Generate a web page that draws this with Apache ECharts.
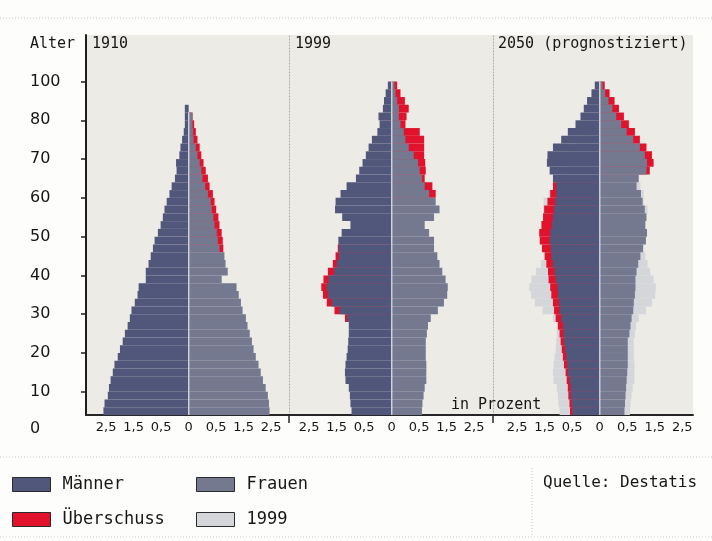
<!DOCTYPE html>
<html>
<head>
<meta charset="utf-8">
<script src="https://cdn.jsdelivr.net/npm/echarts@6/dist/echarts.min.js"></script>
<style>
html,body{margin:0;padding:0;background:#fdfdfc;}
#chart{width:712px;height:541px;}
</style>
</head>
<body>
<div id="chart"></div>
<script>
// Age bins (start of each 2-year band)
const ageBins = [4,6,8,10,12,14,16,18,20,22,24,26,28,30,32,34,36,38,40,42,44,46,48,50,52,54,56,58,60,62,64,66,68,70,72,74,76,78,80,82,84,86,88,90,92,94,96,98,100];

const panelTitles = ['1910', '1999', '2050 (prognostiziert)'];
const yTickValues = [10,20,30,40,50,60,70,80,90];
const yTickLabels = ['10','20','30','40','50','60','70','80','100'];
const xTickValues = [-1.5,-1,-0.5,0,0.5,1,1.5];
const xTickLabels = ['2,5','1,5','0,5','0','0,5','1,5','2,5'];
const legendNames = ['Männer', 'Frauen', 'Überschuss', '1999'];

// 1910
const men1910 = [1.55,1.53,1.47,1.45,1.42,1.38,1.35,1.29,1.25,1.20,1.16,1.11,1.07,1.04,0.98,0.93,0.91,0.78,0.78,0.73,0.69,0.65,0.62,0.56,0.51,0.47,0.44,0.40,0.35,0.31,0.25,0.22,0.23,0.17,0.15,0.12,0.09,0.07,0.07,0.07,0,0,0,0,0,0,0,0,0];
const women1910 = [1.47,1.46,1.44,1.40,1.35,1.31,1.27,1.22,1.18,1.15,1.11,1.07,1.04,0.98,0.95,0.91,0.87,0.60,0.71,0.67,0.65,0.56,0.53,0.51,0.47,0.45,0.42,0.40,0.35,0.30,0.25,0.23,0.20,0.16,0.13,0.09,0.08,0.07,0.07,0,0,0,0,0,0,0,0,0,0];
const menSurplus1910 = [0,0,0,0,0,0,0,0,0,0,0,0,0,0,0,0,0,0,0,0,0,0,0,0,0,0,0,0,0,0,0,0,0,0,0,0,0,0,0,0,0,0,0,0,0,0,0,0,0];
const womenSurplus1910 = [0,0,0,0,0,0,0,0,0,0,0,0,0,0,0,0,0,0,0,0,0,0.63,0.62,0.60,0.56,0.54,0.50,0.47,0.44,0.38,0.35,0.31,0.27,0.23,0.20,0.16,0.13,0.10,0.07,0,0,0,0,0,0,0,0,0,0];

// 1999
const men1999 = [0.73,0.75,0.76,0.78,0.84,0.85,0.84,0.82,0.80,0.79,0.78,0.78,0.81,0.95,1.09,1.16,1.18,1.15,1.05,1.00,0.96,0.96,0.97,0.91,0.75,0.90,1.03,1.02,0.93,0.82,0.65,0.59,0.53,0.47,0.42,0.36,0.26,0.22,0.24,0.16,0.14,0.11,0.07,0,0,0,0,0,0];
const menSurplus1999 = [0,0,0,0,0,0,0,0,0,0,0,0,0.85,1.04,1.18,1.25,1.28,1.24,1.16,1.07,1.02,0.98,0,0,0,0,0,0,0,0,0,0,0,0,0,0,0,0,0,0,0,0,0,0,0,0,0,0,0];
const women1999 = [0.55,0.56,0.58,0.60,0.63,0.63,0.63,0.62,0.62,0.62,0.64,0.66,0.71,0.84,0.95,1.01,1.02,0.98,0.92,0.87,0.83,0.77,0.77,0.68,0.60,0.77,0.87,0.80,0.68,0.60,0.55,0.51,0.48,0.40,0.31,0.25,0.22,0.16,0.13,0.13,0.10,0.07,0.05,0,0,0,0,0,0];
const womenSurplus1999 = [0,0,0,0,0,0,0,0,0,0,0,0,0,0,0,0,0,0,0,0,0,0,0,0,0,0,0,0,0.80,0.74,0.60,0.62,0.61,0.59,0.59,0.59,0.51,0.25,0.27,0.31,0.24,0.16,0.10,0,0,0,0,0,0];

// 2050
const men2050 = [0.50,0.51,0.53,0.53,0.55,0.58,0.59,0.61,0.63,0.65,0.66,0.67,0.70,0.73,0.74,0.76,0.77,0.80,0.82,0.85,0.88,0.89,0.91,0.90,0.87,0.85,0.83,0.81,0.79,0.79,0.85,0.91,0.96,0.95,0.85,0.70,0.58,0.44,0.35,0.29,0.23,0.15,0.09,0,0,0,0,0,0];
const menSurplus2050 = [0.54,0.55,0.57,0.58,0.60,0.62,0.65,0.67,0.69,0.71,0.73,0.76,0.80,0.83,0.85,0.88,0.90,0.93,0.94,0.97,1.00,1.05,1.09,1.10,1.06,1.03,1.01,0.95,0.90,0.85,0,0,0,0,0,0,0,0,0,0,0,0,0,0,0,0,0,0,0];
const women2050 = [0.45,0.46,0.47,0.48,0.49,0.50,0.51,0.51,0.51,0.51,0.54,0.56,0.58,0.61,0.62,0.64,0.65,0.65,0.67,0.70,0.74,0.79,0.84,0.86,0.83,0.85,0.82,0.78,0.75,0.67,0.71,0.85,0.86,0.82,0.73,0.61,0.49,0.39,0.30,0.23,0.16,0.10,0.05,0,0,0,0,0,0];
const womenSurplus2050 = [0,0,0,0,0,0,0,0,0,0,0,0,0,0,0,0,0,0,0,0,0,0,0,0,0,0,0,0,0,0,0,0.91,0.98,0.95,0.85,0.73,0.64,0.53,0.44,0.35,0.27,0.18,0.09,0,0,0,0,0,0];

const panels = [
  {men: men1910, menS: menSurplus1910, women: women1910, womenS: womenSurplus1910, ghost: false},
  {men: men1999, menS: menSurplus1999, women: women1999, womenS: womenSurplus1999, ghost: false},
  {men: men2050, menS: menSurplus2050, women: women2050, womenS: womenSurplus2050, ghost: true}
];

const COL_MEN = '#50577a', COL_WOMEN = '#74798f', COL_RED = '#e2122c', COL_GHOST = '#d5d6da';
const FONT = 'DejaVu Sans Mono';
const FONT_NUM = 'DejaVu Sans';
const INK = '#161616';

const grids = [
  {left: 86, top: 35, width: 203, height: 380},
  {left: 289, top: 35, width: 204, height: 380},
  {left: 493, top: 35, width: 200, height: 380}
];
const xRanges = [[-1.867, 1.824], [-1.867, 1.842], [-1.94, 1.696]];

function fmtX(v) {
  const i = xTickValues.findIndex(t => Math.abs(t - v) < 1e-6);
  return i >= 0 ? xTickLabels[i] : '';
}
function fmtY(v) {
  const i = yTickValues.findIndex(t => Math.abs(t - v) < 1e-6);
  return i >= 0 ? yTickLabels[i] : '';
}

const xAxes = grids.map((g, i) => ({
  type: 'value', gridIndex: i, min: xRanges[i][0], max: xRanges[i][1],
  axisLine: {show: true, onZero: false, lineStyle: {color: '#262626', width: 2}},
  axisTick: {show: false},
  splitLine: {show: false},
  axisLabel: {customValues: xTickValues, formatter: fmtX, fontFamily: FONT_NUM, fontSize: 13, color: INK, margin: 6}
}));

const yAxes = grids.map((g, i) => ({
  type: 'category', gridIndex: i, data: ageBins, boundaryGap: true,
  show: i > 0, position: 'left',
  axisLine: {show: i > 0, onZero: false, lineStyle: {color: '#a9a9a9', type: [1, 2], width: 1}},
  axisTick: {show: false}, axisLabel: {show: false}, splitLine: {show: false}
}));
yAxes.push({
  type: 'value', gridIndex: 0, min: 4, max: 102, position: 'left',
  axisLine: {show: true, onZero: false, lineStyle: {color: '#1e1e1e', width: 2}},
  axisTick: {show: true, customValues: yTickValues, length: 5, lineStyle: {color: '#1e1e1e', width: 1.5}},
  axisLabel: {customValues: yTickValues, formatter: fmtY, align: 'left', margin: 56, fontFamily: FONT_NUM, fontSize: 16, color: INK},
  splitLine: {show: false}
});

const series = [];
function bar(name, gi, data, color) {
  series.push({
    type: 'bar', name: name, xAxisIndex: gi, yAxisIndex: gi, data: data,
    barGap: '-100%', barCategoryGap: '0%', silent: true, animation: false,
    itemStyle: {color: color}
  });
}
panels.forEach((p, gi) => {
  if (p.ghost) {
    bar('1999', gi, men1999.map((v, i) => -Math.max(v, menSurplus1999[i])), COL_GHOST);
    bar('1999', gi, women1999.map((v, i) => Math.max(v, womenSurplus1999[i])), COL_GHOST);
  }
  bar('Überschuss', gi, p.menS.map(v => -v), COL_RED);
  bar('Überschuss', gi, p.womenS, COL_RED);
  bar('Männer', gi, p.men.map(v => -v), COL_MEN);
  bar('Frauen', gi, p.women, COL_WOMEN);
  // thin light centre divider where both sexes are present
  bar('_c', gi, p.men.map((v, i) => (v > 0 && p.women[i] > 0) ? -0.012 : 0), '#e9edf2');
  bar('_c', gi, p.men.map((v, i) => (v > 0 && p.women[i] > 0) ? 0.012 : 0), '#e9edf2');
});

const txt = (x, y, t, size, font, extra) => Object.assign({
  type: 'text', x: x, y: y, z: 10,
  style: {text: t, fontFamily: font || FONT, fontSize: size || 15, fill: INK, textVerticalAlign: 'middle', textAlign: 'left'}
}, extra || {});
const dotted = (x1, y1, x2, y2) => ({
  type: 'line', shape: {x1: x1, y1: y1, x2: x2, y2: y2},
  style: {stroke: '#c4c4c4', lineWidth: 1, lineDash: [1, 2]}
});

const legendPos = [[7, 471], [191, 471], [7, 506], [191, 506]];
const legends = legendNames.map((n, i) => ({
  left: legendPos[i][0], top: legendPos[i][1], data: [n],
  selectedMode: false, itemWidth: 38, itemHeight: 14, icon: 'rect',
  itemStyle: {borderColor: '#2a2a2a', borderWidth: 1},
  textStyle: {fontFamily: FONT, fontSize: 17, color: INK, padding: [0, 0, 0, 7]}
}));

const option = {
  backgroundColor: '#fdfdfc',
  animation: false,
  grid: grids.map(g => Object.assign({show: true, backgroundColor: '#ecebe6', borderWidth: 0}, g)),
  xAxis: xAxes,
  yAxis: yAxes,
  series: series,
  legend: legends,
  graphic: [
    dotted(0, 18, 712, 18),
    dotted(0, 457, 712, 457),
    dotted(0, 537, 712, 537),
    dotted(532, 468, 532, 537),
    {type: 'line', shape: {x1: 289, y1: 415, x2: 289, y2: 423}, style: {stroke: '#262626', lineWidth: 1.5}},
    {type: 'line', shape: {x1: 493, y1: 415, x2: 493, y2: 423}, style: {stroke: '#262626', lineWidth: 1.5}},
    txt(30, 44, 'Alter'),
    txt(30, 429, '0', 16, FONT_NUM),
    txt(92, 44, panelTitles[0]),
    txt(295, 44, panelTitles[1]),
    txt(498, 44, panelTitles[2]),
    txt(451, 405, 'in Prozent'),
    txt(543, 483, 'Quelle: Destatis', 16)
  ]
};

const chart = echarts.init(document.getElementById('chart'), null, {renderer: 'canvas'});
chart.setOption(option);
</script>
</body>
</html>
